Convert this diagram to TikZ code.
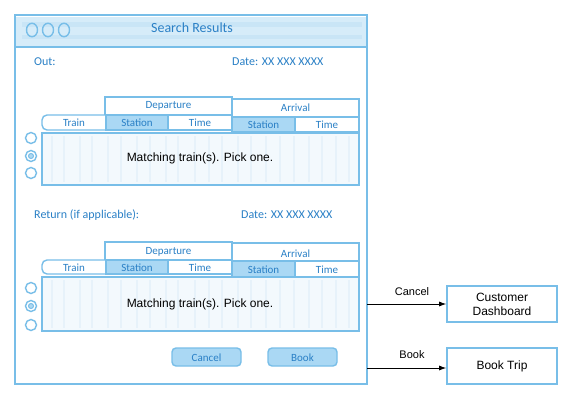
\documentclass[tikz,border=0pt]{standalone}
\usepackage{fontspec}
\setmainfont{Liberation Sans}
\newfontfamily\sketchfont{Carlito}
\usetikzlibrary{arrows.meta,shapes.geometric}
\definecolor{skline}{HTML}{78BEE8}
\definecolor{sktext}{HTML}{2A80C6}
\definecolor{skfill}{HTML}{AAD8F4}
\definecolor{sktitle}{HTML}{D6ECF9}
\definecolor{skbody}{HTML}{F3F9FD}
\definecolor{skstripe}{HTML}{E7F2FA}
\begin{document}
\begin{tikzpicture}[x=1pt,y=-1pt,
  sk/.style={draw=skline,line width=1.4pt},
  cell/.style={sk,fill=white},
  hcell/.style={sk,fill=skfill},
  sktxt/.style={text=sktext,font=\sketchfont\fontsize{11}{13}\selectfont,inner sep=0pt},
  lbl/.style={text=sktext,font=\sketchfont\fontsize{12}{14}\selectfont,inner sep=0pt},
  radio/.style={sk,circle,minimum size=11pt,inner sep=0pt},
  winbtn/.style={sk,ellipse,minimum width=11pt,minimum height=13.5pt,inner sep=0pt},
  btn/.style={sk,fill=skfill,rounded corners=4pt},
  navbox/.style={draw=skline,line width=1.6pt,fill=white,font=\fontsize{12}{14}\selectfont,align=center,inner sep=0pt},
  conn/.style={-{Latex[length=7pt,width=5pt]},line width=0.8pt},
  clbl/.style={font=\fontsize{11}{13}\selectfont,inner sep=0pt}]
\useasboundingbox (0,0) rectangle (572,401);
% window
\draw[sk,fill=white] (15,15) rectangle (367,384);
\node[coordinate] (winR1) at (367,304) {};
\node[coordinate] (winR2) at (367,368) {};
% title bar
\fill[sktitle] (16,17) rectangle (366,47);
\draw[sk] (15,47) -- (367,47);
\draw[skline!40,line width=5pt] (22,25) -- (362,25);
\draw[skline!40,line width=4pt] (22,37) -- (362,37);
\node[winbtn] (c1) at (32,30) {};
\node[winbtn] (c2) at (48,30) {};
\node[winbtn] (c3) at (64,30) {};
\node[text=sktext,font=\sketchfont\fontsize{14}{16}\selectfont,inner sep=0pt] (title) at (192,28) {Search Results};
% ---------- Out section
\node[lbl,anchor=west] (out) at (34,62) {Out:};
\node[lbl,anchor=west] (date1) at (232,62) {Date: XX XXX XXXX};
% headers
\draw[cell] (105,97) rectangle (232,115);
\node[sktxt] (dep1) at (168.5,106) {Departure};
\draw[cell] (232,99) rectangle (359,117);
\node[sktxt] (arr1) at (295.5,108) {Arrival};
\draw[cell,rounded corners=5pt] (106,130) -- (42,130) -- (42,115) -- (106,115);
\node[sktxt] (tr1) at (74,123) {Train};
\draw[hcell] (106,115) rectangle (168,130);
\node[sktxt] (st1) at (137,123) {Station};
\draw[cell] (168,115) rectangle (232,130);
\node[sktxt] (tm1) at (200,123) {Time};
\draw[hcell] (232,117) rectangle (295,132);
\node[sktxt] (st2) at (263.5,125) {Station};
\draw[cell] (295,117) rectangle (359,132);
\node[sktxt] (tm2) at (327,125) {Time};
% body
\fill[skbody] (42,133) rectangle (359,185);
\foreach \xx in {52,64,80,92,108,121,137,150,166,178,195,209,222,238,251,266,280,294,309,322,336,349}
  \draw[skstripe,line width=2pt] (\xx,136) -- (\xx,182);
\draw[sk] (42,133) rectangle (359,185);
\node[font=\fontsize{12}{14}\selectfont,inner sep=0pt] (m1) at (200,158) {Matching train(s). Pick one.};
\node[radio] (r1) at (31,138) {};
\node[radio] (r2) at (31,156) {};
\node[sk,circle,fill=skline!60,minimum size=5pt,inner sep=0pt,line width=1pt] (r2d) at (31,156) {};
\node[radio] (r3) at (31,173) {};
% ---------- Return section
\node[lbl,anchor=west] (ret) at (34,215) {Return (if applicable):};
\node[lbl,anchor=west] (date2) at (241,215) {Date: XX XXX XXXX};
\draw[cell] (105,242) rectangle (232,260);
\node[sktxt] (dep2) at (168.5,252) {Departure};
\draw[cell] (232,243) rectangle (359,261);
\node[sktxt] (arr2) at (295.5,254) {Arrival};
\draw[cell,rounded corners=5pt] (106,274) -- (42,274) -- (42,260) -- (106,260);
\node[sktxt] (tr2) at (74,268) {Train};
\draw[hcell] (106,260) rectangle (168,274);
\node[sktxt] (st3) at (137,268) {Station};
\draw[cell] (168,260) rectangle (232,274);
\node[sktxt] (tm3) at (200,268) {Time};
\draw[hcell] (232,261) rectangle (295,277);
\node[sktxt] (st4) at (263.5,270) {Station};
\draw[cell] (295,261) rectangle (359,277);
\node[sktxt] (tm4) at (327,270) {Time};
\fill[skbody] (42,277) rectangle (359,331);
\foreach \xx in {52,64,80,92,108,121,137,150,166,178,195,209,222,238,251,266,280,294,309,322,336,349}
  \draw[skstripe,line width=2pt] (\xx,280) -- (\xx,328);
\draw[sk] (42,277) rectangle (359,331);
\node[font=\fontsize{12}{14}\selectfont,inner sep=0pt] (m2) at (200,304) {Matching train(s). Pick one.};
\node[radio] (r4) at (31,288) {};
\node[radio] (r5) at (31,306) {};
\node[sk,circle,fill=skline!60,minimum size=5pt,inner sep=0pt,line width=1pt] (r5d) at (31,306) {};
\node[radio] (r6) at (31,325) {};
% buttons
\draw[btn] (172,348) rectangle (241,366);
\node[sktxt] (bc) at (206.5,358) {Cancel};
\draw[btn] (268,348) rectangle (337,366);
\node[sktxt] (bb) at (302.5,358) {Book};
% navigation targets
\node[navbox,minimum width=110pt,minimum height=36pt] (dash) at (502,304) {Customer\\Dashboard};
\node[navbox,minimum width=110pt,minimum height=36pt] (trip) at (502,366) {Book Trip};
\draw[conn] (winR1) -- (dash.west);
\node[clbl] (lc) at (412,292) {Cancel};
\draw[conn] (winR2) -- (trip.west |- winR2);
\node[clbl] (lb) at (412,355) {Book};
\end{tikzpicture}
\end{document}
